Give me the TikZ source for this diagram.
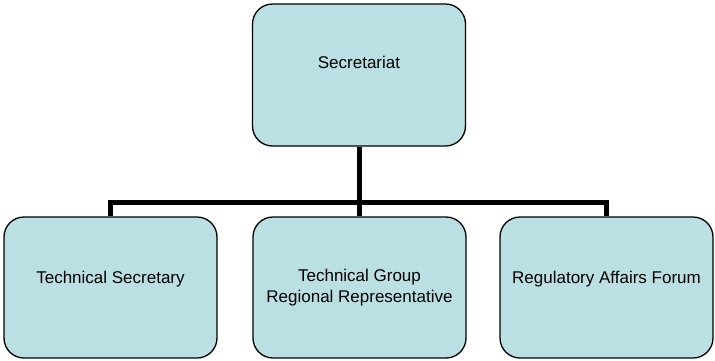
\documentclass[tikz,border=0pt]{standalone}
\usepackage{fontspec}
\setmainfont{Liberation Sans}
\definecolor{boxfill}{HTML}{BBE0E3}
\begin{document}
\begin{tikzpicture}[x=1pt,y=-1pt,
  orgbox/.style={draw=black, fill=boxfill, line width=1.3pt, rounded corners=20pt,
     rectangle, minimum width=213pt, minimum height=142pt, inner sep=0pt},
  orgtext/.style={anchor=base, font=\fontsize{17}{21}\selectfont, align=center, inner sep=0pt},
  conn/.style={draw=black, line width=5pt, line join=miter, line cap=butt}]
\useasboundingbox (0,0) rectangle (715,360);
\node[orgbox] (top) at (359,75) {};
\node[orgbox, minimum height=141pt] (b1) at (110.5,287.5) {};
\node[orgbox, minimum height=141pt] (b2) at (359.5,287.5) {};
\node[orgbox, minimum height=141pt] (b3) at (606.5,287.5) {};
\node[orgtext] (t0) at (359,68) {Secretariat};
\node[orgtext] (t1) at (110.5,283) {Technical Secretary};
\node[orgtext, anchor=base] (t2a) at (359.5,281) {Technical Group};
\node[orgtext, anchor=base] (t2b) at (359.5,302) {Regional Representative};
\node[orgtext] (t3) at (606.5,283) {Regulatory Affairs Forum};
\coordinate (bus) at (0,202);
\draw[conn] (top.south) -- (top.south |- bus);
\draw[conn] (b1.north) -- (b1.north |- bus) -- (b3.north |- bus) -- (b3.north);
\draw[conn] (b2.north) -- (b2.north |- bus);
\end{tikzpicture}
\end{document}
